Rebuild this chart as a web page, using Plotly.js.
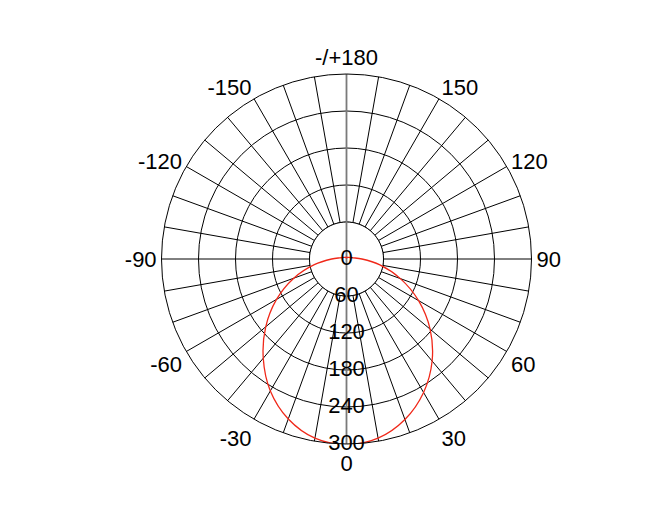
<!DOCTYPE html>
<html>
<head>
<meta charset="utf-8">
<script src="https://cdn.plot.ly/plotly-3.0.1.min.js"></script>
<style>
  html, body { margin: 0; padding: 0; background: #fff; }
  #chart { width: 672px; height: 528px; }
</style>
</head>
<body>
<div id="chart"></div>
<script>
// angles in degrees, 0 points down, positive to the right
const angles = [-180, -170, -160, -150, -140, -130, -120, -110, -100, -90, -80, -70, -60, -50, -40, -30, -20, -10,
  0, 10, 20, 30, 40, 50, 60, 70, 80, 90, 100, 110, 120, 130, 140, 150, 160, 170, 180];

// intensity
const intensity = [2, 2, 3, 3, 3, 4, 5, 7, 11, 24, 53, 91, 131, 171, 210, 247, 276, 295,
  301, 295, 277, 250, 216, 177, 135, 93, 55, 25, 11, 7, 5, 4, 3, 3, 3, 2, 2];

// radial labels drawn down the 0 direction
const radialTicks = [0, 60, 120, 180, 240, 300];
const radialGrid = [60, 120, 180, 240];
const radialMax = 300;

// angular grid every 10 deg, labels every 30 deg
const angularGrid = [0, 10, 20, 30, 40, 50, 60, 70, 80, 90, 100, 110, 120, 130, 140, 150, 160, 170,
  180, 190, 200, 210, 220, 230, 240, 250, 260, 270, 280, 290, 300, 310, 320, 330, 340, 350];
const angularLabels = ['0', '', '', '30', '', '', '60', '', '', '90', '', '', '120', '', '', '150', '', '',
  '-/+180', '', '', '-150', '', '', '-120', '', '', '-90', '', '', '-60', '', '', '-30', '', ''];

const FONT = 'Liberation Sans, Arial, sans-serif';

// white disc so the spokes stop at the first ring
const discTheta = [];
const discR = [];
for (let a = 0; a <= 360; a += 5) {
  discTheta.push(a);
  discR.push(radialGrid[0]);
}

const traces = [
  {
    // inner disc
    type: 'scatterpolar',
    mode: 'lines',
    r: discR,
    theta: discTheta,
    fill: 'toself',
    fillcolor: '#ffffff',
    line: { color: '#000000', width: 1 },
    hoverinfo: 'skip',
  },
  {
    // gray vertical axis through the centre
    type: 'scatterpolar',
    mode: 'lines',
    r: [radialMax, radialMax],
    theta: [180, 0],
    line: { color: '#7a7a7a', width: 1.8 },
    hoverinfo: 'skip',
  },
  {
    // measured curve
    type: 'scatterpolar',
    mode: 'lines',
    r: intensity,
    theta: angles,
    line: { color: 'rgb(240,40,25)', width: 1.3, shape: 'spline', smoothing: 1 },
    hoverinfo: 'skip',
  },
  {
    // radial tick labels
    type: 'scatterpolar',
    mode: 'text',
    r: radialTicks,
    theta: radialTicks.map(() => 0),
    text: radialTicks.map(String),
    textposition: 'middle center',
    textfont: { family: FONT, size: 22, color: '#000000' },
    hoverinfo: 'skip',
  },
];

const layout = {
  width: 672,
  height: 528,
  margin: { l: 80, r: 59, t: 74, b: 84, pad: 0 },
  paper_bgcolor: '#ffffff',
  showlegend: false,
  font: { family: FONT, size: 22, color: '#000000' },
  polar: {
    bgcolor: '#ffffff',
    angularaxis: {
      rotation: -90,
      direction: 'counterclockwise',
      tickmode: 'array',
      tickvals: angularGrid,
      ticktext: angularLabels,
      ticks: '',
      showline: true,
      linecolor: '#000000',
      linewidth: 1,
      gridcolor: '#000000',
      gridwidth: 1,
      tickfont: { family: FONT, size: 22, color: '#000000' },
    },
    radialaxis: {
      range: [0, radialMax],
      tickmode: 'array',
      tickvals: radialGrid,
      showticklabels: false,
      showline: false,
      ticks: '',
      gridcolor: '#000000',
      gridwidth: 1,
    },
  },
};

Plotly.newPlot('chart', traces, layout, { displayModeBar: false, staticPlot: true });
</script>
</body>
</html>
